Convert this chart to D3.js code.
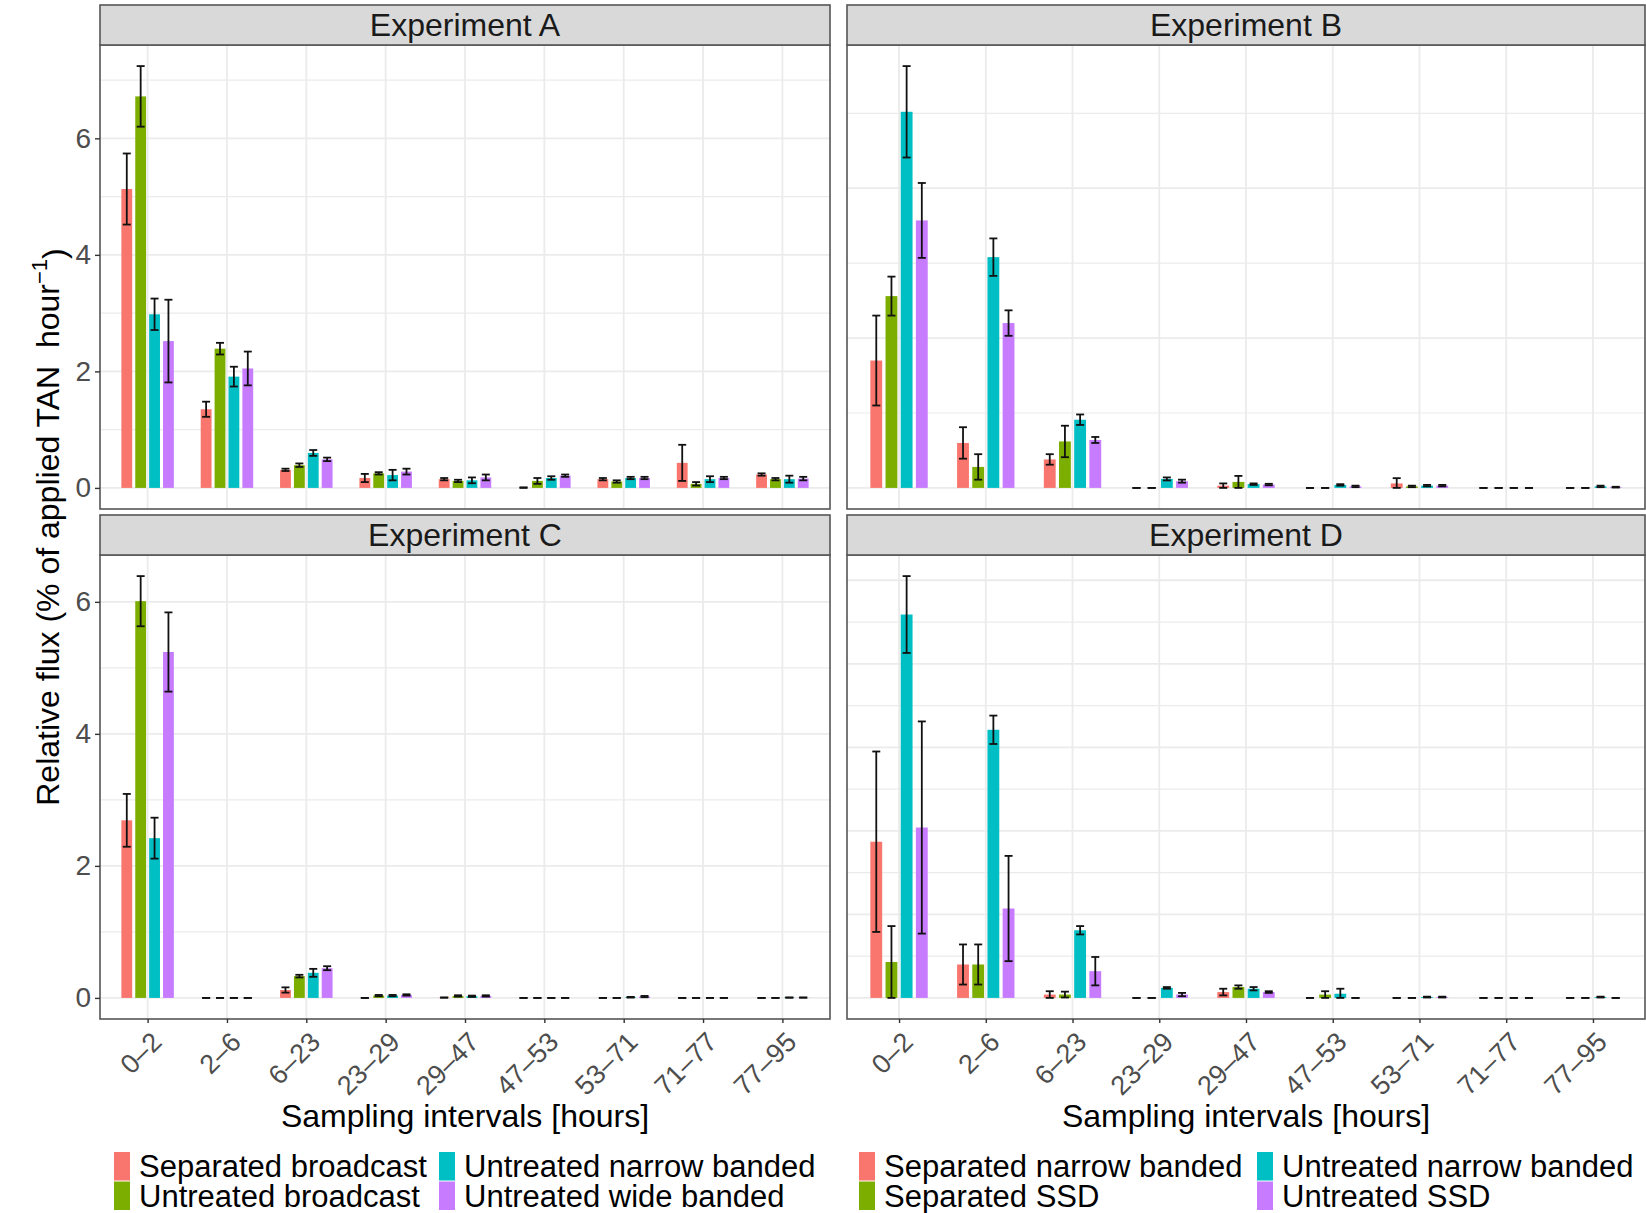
<!DOCTYPE html>
<html>
<head>
<meta charset="utf-8">
<script src="https://cdn.jsdelivr.net/npm/d3@7"></script>
<style>
  body { margin: 0; background: #fff; }
  svg text { font-family: "Liberation Sans", Arial, sans-serif; }
</style>
</head>
<body>
<div id="chart"></div>
<script>
// Sampling intervals on the x axis
const intervals = ["0–2", "2–6", "6–23", "23–29", "29–47", "47–53", "53–71", "71–77", "77–95"];

// Treatments of the left figure (A, C) and right figure (B, D)
const seriesLeft = ["Separated broadcast", "Untreated broadcast", "Untreated narrow banded", "Untreated wide banded"];
const seriesRight = ["Separated narrow banded", "Separated SSD", "Untreated narrow banded", "Untreated SSD"];
const colors = ["#F8766D", "#7CAE00", "#00BFC4", "#C77CFF"];

// Experiment A: mean flux and error, one row per treatment
const expA_mean = [
    [5.13, 1.35, 0.31, 0.17, 0.15, 0.00, 0.15, 0.43, 0.23],
    [6.72, 2.39, 0.39, 0.25, 0.12, 0.12, 0.11, 0.07, 0.15],
    [2.98, 1.91, 0.60, 0.22, 0.13, 0.17, 0.17, 0.15, 0.15],
    [2.52, 2.05, 0.49, 0.28, 0.18, 0.21, 0.17, 0.17, 0.16]
];
const expA_err = [
    [0.61, 0.13, 0.02, 0.07, 0.02, 0.01, 0.02, 0.31, 0.02],
    [0.52, 0.10, 0.03, 0.02, 0.02, 0.05, 0.02, 0.03, 0.02],
    [0.27, 0.17, 0.05, 0.09, 0.05, 0.03, 0.02, 0.05, 0.06],
    [0.71, 0.29, 0.03, 0.05, 0.05, 0.02, 0.02, 0.02, 0.03]
];

// Experiment B
const expB_mean = [
    [1.70, 0.60, 0.38, 0.00, 0.03, 0.00, 0.06, 0.00, 0.00],
    [2.56, 0.28, 0.62, 0.00, 0.08, 0.00, 0.02, 0.00, 0.00],
    [5.02, 3.08, 0.91, 0.12, 0.05, 0.04, 0.03, 0.00, 0.02],
    [3.57, 2.20, 0.64, 0.09, 0.045, 0.02, 0.03, 0.00, 0.01]
];
const expB_err = [
    [0.60, 0.21, 0.07, 0.00, 0.03, 0.00, 0.07, 0.00, 0.00],
    [0.26, 0.17, 0.21, 0.00, 0.08, 0.00, 0.01, 0.00, 0.00],
    [0.61, 0.25, 0.07, 0.02, 0.01, 0.01, 0.01, 0.00, 0.01],
    [0.50, 0.17, 0.04, 0.02, 0.01, 0.01, 0.01, 0.00, 0.005]
];

// Experiment C
const expC_mean = [
    [2.69, 0.00, 0.12, 0.00, 0.005, 0.00, 0.00, 0.00, 0.00],
    [6.01, 0.00, 0.33, 0.035, 0.03, 0.00, 0.00, 0.00, 0.00],
    [2.42, 0.00, 0.38, 0.035, 0.025, 0.00, 0.01, 0.00, 0.005],
    [5.24, 0.00, 0.45, 0.045, 0.03, 0.00, 0.02, 0.00, 0.005]
];
const expC_err = [
    [0.40, 0.00, 0.04, 0.00, 0.00, 0.00, 0.00, 0.00, 0.00],
    [0.38, 0.00, 0.02, 0.01, 0.01, 0.00, 0.00, 0.00, 0.00],
    [0.31, 0.00, 0.06, 0.01, 0.01, 0.00, 0.005, 0.00, 0.00],
    [0.60, 0.00, 0.03, 0.01, 0.01, 0.00, 0.01, 0.00, 0.00]
];

// Experiment D
const expD_mean = [
    [1.87, 0.40, 0.04, 0.00, 0.07, 0.00, 0.00, 0.00, 0.00],
    [0.43, 0.40, 0.04, 0.00, 0.13, 0.04, 0.00, 0.00, 0.00],
    [4.59, 3.21, 0.81, 0.12, 0.11, 0.05, 0.01, 0.00, 0.01],
    [2.04, 1.07, 0.32, 0.04, 0.07, 0.00, 0.01, 0.00, 0.00]
];
const expD_err = [
    [1.08, 0.24, 0.04, 0.00, 0.04, 0.00, 0.00, 0.00, 0.00],
    [0.43, 0.24, 0.035, 0.00, 0.02, 0.04, 0.00, 0.00, 0.00],
    [0.46, 0.17, 0.05, 0.01, 0.02, 0.06, 0.005, 0.00, 0.005],
    [1.27, 0.63, 0.17, 0.02, 0.01, 0.00, 0.005, 0.00, 0.00]
];

// Major y breaks for each panel (minor lines sit half way between)
const ticksA = [0, 2, 4, 6];
const ticksB = [0, 2, 4];
const ticksC = [0, 2, 4, 6];
const ticksD = [0, 1, 2, 3, 4, 5];

const width = 1646, height = 1213;

const svg = d3.select("#chart")
    .append("svg")
    .attr("width", width)
    .attr("height", height)
    .style("display", "block");

// Panel layout: left figure holds A and C, right figure holds B and D
const colLeft = { x0: 100, x1: 830 };
const colRight = { x0: 847, x1: 1645 };
const rowTop = { s0: 5, y0: 45, y1: 509 };
const rowBottom = { s0: 515, y0: 555, y1: 1019 };

const panels = [
    { name: "Experiment A", mean: expA_mean, err: expA_err, ticks: ticksA, col: colLeft, row: rowTop, yAxis: true, xAxis: false },
    { name: "Experiment B", mean: expB_mean, err: expB_err, ticks: ticksB, col: colRight, row: rowTop, yAxis: false, xAxis: false },
    { name: "Experiment C", mean: expC_mean, err: expC_err, ticks: ticksC, col: colLeft, row: rowBottom, yAxis: true, xAxis: true },
    { name: "Experiment D", mean: expD_mean, err: expD_err, ticks: ticksD, col: colRight, row: rowBottom, yAxis: false, xAxis: true }
];

const gridColor = "#EBEBEB";
const borderColor = "#555";

panels.forEach(p => {
    const g = svg.append("g");

    // x positions: discrete scale with ggplot style 0.6 expansion
    const x = d3.scalePoint()
        .domain(intervals)
        .range([p.col.x0, p.col.x1])
        .padding(0.6);
    const step = x.step();

    // dodge positions within each interval
    const xSub = d3.scaleBand()
        .domain(d3.range(4))
        .range([-0.35 * step, 0.35 * step])
        .paddingInner(0.22)
        .paddingOuter(0.11);

    // y scale: free per panel, 5% expansion on both sides
    const maxVal = d3.max(p.mean.flatMap((row, i) => row.map((v, j) => v + p.err[i][j])));
    const y = d3.scaleLinear()
        .domain([-0.05 * maxVal, 1.05 * maxVal])
        .range([p.row.y1, p.row.y0]);

    const stepT = p.ticks[1] - p.ticks[0];
    const minor = p.ticks.map(t => t + stepT / 2).filter(t => t < y.domain()[1]);

    // background
    g.append("rect")
        .attr("x", p.col.x0).attr("y", p.row.y0)
        .attr("width", p.col.x1 - p.col.x0).attr("height", p.row.y1 - p.row.y0)
        .attr("fill", "#fff");

    // grid lines
    g.selectAll(".minor")
        .data(minor)
        .enter()
        .append("line")
        .attr("x1", p.col.x0).attr("x2", p.col.x1)
        .attr("y1", d => y(d)).attr("y2", d => y(d))
        .attr("stroke", gridColor)
        .attr("stroke-width", 1.2);

    g.selectAll(".major")
        .data(p.ticks)
        .enter()
        .append("line")
        .attr("x1", p.col.x0).attr("x2", p.col.x1)
        .attr("y1", d => y(d)).attr("y2", d => y(d))
        .attr("stroke", gridColor)
        .attr("stroke-width", 1.8);

    g.selectAll(".vgrid")
        .data(intervals)
        .enter()
        .append("line")
        .attr("x1", d => x(d)).attr("x2", d => x(d))
        .attr("y1", p.row.y0).attr("y2", p.row.y1)
        .attr("stroke", gridColor)
        .attr("stroke-width", 1.8);

    // flatten to one record per bar
    const bars = [];
    p.mean.forEach((row, s) => {
        row.forEach((v, j) => {
            bars.push({ s: s, interval: intervals[j], value: v, err: p.err[s][j] });
        });
    });
    const cx = d => x(d.interval) + xSub(d.s) + xSub.bandwidth() / 2;

    g.selectAll(".bar")
        .data(bars.filter(d => d.value > 0))
        .enter()
        .append("rect")
        .attr("x", d => x(d.interval) + xSub(d.s))
        .attr("width", xSub.bandwidth())
        .attr("y", d => y(d.value))
        .attr("height", d => y(0) - y(d.value))
        .attr("fill", d => colors[d.s]);

    // error bars
    const cap = 4;
    const eb = g.selectAll(".err")
        .data(bars)
        .enter()
        .append("g")
        .attr("stroke", "#111")
        .attr("stroke-width", 1.8);
    eb.append("line")
        .attr("x1", cx).attr("x2", cx)
        .attr("y1", d => y(Math.max(0, d.value - d.err)))
        .attr("y2", d => y(d.value + d.err));
    eb.append("line")
        .attr("x1", d => cx(d) - cap).attr("x2", d => cx(d) + cap)
        .attr("y1", d => y(d.value + d.err)).attr("y2", d => y(d.value + d.err));
    eb.append("line")
        .attr("x1", d => cx(d) - cap).attr("x2", d => cx(d) + cap)
        .attr("y1", d => y(Math.max(0, d.value - d.err))).attr("y2", d => y(Math.max(0, d.value - d.err)));

    // panel border
    g.append("rect")
        .attr("x", p.col.x0).attr("y", p.row.y0)
        .attr("width", p.col.x1 - p.col.x0).attr("height", p.row.y1 - p.row.y0)
        .attr("fill", "none")
        .attr("stroke", borderColor)
        .attr("stroke-width", 1.6);

    // strip
    g.append("rect")
        .attr("x", p.col.x0).attr("y", p.row.s0)
        .attr("width", p.col.x1 - p.col.x0).attr("height", p.row.y0 - p.row.s0)
        .attr("fill", "#D9D9D9")
        .attr("stroke", borderColor)
        .attr("stroke-width", 1.6);
    g.append("text")
        .attr("x", (p.col.x0 + p.col.x1) / 2)
        .attr("y", p.row.y0 - 9)
        .attr("text-anchor", "middle")
        .style("font-size", "32px")
        .style("fill", "#1A1A1A")
        .text(p.name);

    // y axis (left figure only)
    if (p.yAxis) {
        const ya = g.append("g")
            .attr("transform", "translate(" + p.col.x0 + ",0)")
            .call(d3.axisLeft(y).tickValues(p.ticks).tickSize(5).tickPadding(4).tickFormat(d3.format("d")));
        ya.select(".domain").remove();
        ya.selectAll(".tick line").attr("stroke", "#333").attr("stroke-width", 1.4);
        ya.selectAll(".tick text")
            .style("font-size", "28px")
            .style("fill", "#4D4D4D")
            .style("font-family", "'Liberation Sans', Arial, sans-serif");
    }

    // x axis (bottom row only)
    if (p.xAxis) {
        const xa = g.append("g")
            .attr("transform", "translate(0," + p.row.y1 + ")")
            .call(d3.axisBottom(x).tickSize(4).tickFormat(""));
        xa.select(".domain").remove();
        xa.selectAll(".tick line").attr("stroke", "#333").attr("stroke-width", 1.4);

        g.selectAll(".xlab")
            .data(intervals)
            .enter()
            .append("text")
            .attr("transform", d => "translate(" + (x(d) + 9) + "," + (p.row.y1 + 18) + ") rotate(-45)")
            .attr("text-anchor", "end")
            .attr("dy", "0.35em")
            .style("font-size", "27px")
            .style("fill", "#4D4D4D")
            .text(d => d);

        // axis title
        g.append("text")
            .attr("x", (p.col.x0 + p.col.x1) / 2)
            .attr("y", 1127)
            .attr("text-anchor", "middle")
            .style("font-size", "32px")
            .style("fill", "#000")
            .text("Sampling intervals [hours]");
    }
});

// y axis title of the left figure
const yTitle = svg.append("text")
    .attr("transform", "translate(59,527) rotate(-90)")
    .attr("text-anchor", "middle")
    .style("font-size", "32px")
    .style("white-space", "pre")
    .style("fill", "#000");
yTitle.append("tspan").text("Relative flux (% of applied TAN  hour");
yTitle.append("tspan").attr("dy", "-0.55em").style("font-size", "22px").text("−1");
yTitle.append("tspan").attr("dy", "0.55em").text(")");

// legends, two columns of two keys under each figure
const legends = [
    { series: seriesLeft, cols: [114, 439] },
    { series: seriesRight, cols: [859, 1257] }
];
legends.forEach(l => {
    l.series.forEach((name, i) => {
        const col = Math.floor(i / 2), row = i % 2;
        const kx = l.cols[col], ky = 1152 + row * 29.5;
        svg.append("rect")
            .attr("x", kx).attr("y", ky)
            .attr("width", 16).attr("height", 28.5)
            .attr("fill", colors[i]);
        svg.append("text")
            .attr("x", kx + 25)
            .attr("y", ky + 25)
            .style("font-size", "31px")
            .style("fill", "#000")
            .text(name);
    });
});
</script>
</body>
</html>
